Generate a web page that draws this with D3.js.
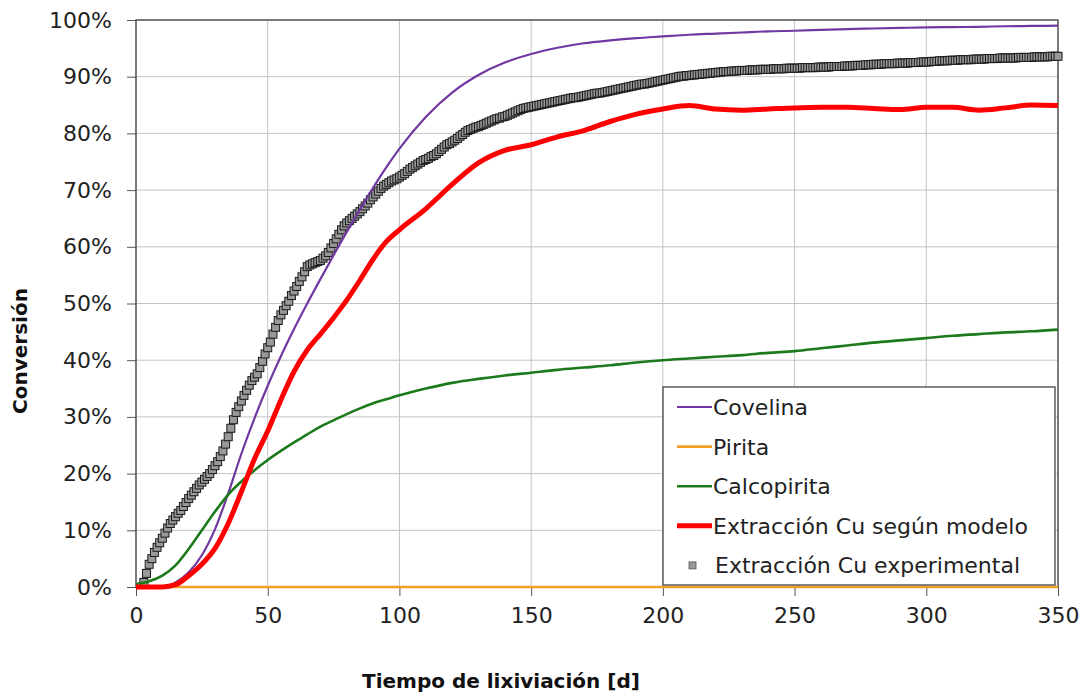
<!doctype html>
<html>
<head>
<meta charset="UTF-8">
<title>Conversión vs tiempo de lixiviación</title>
<script src="https://d3js.org/d3.v7.min.js"></script>
<style>
  body { margin: 0; background: #fff; }
  text { font-family: "DejaVu Sans", Verdana, sans-serif; fill: #222; }
  .grid line { stroke: #c4c4c4; stroke-width: 1; }
  .axis path, .axis line { stroke: #555; }
</style>
</head>
<body>
<svg id="chart" width="1086" height="694"></svg>
<script>
// days for the model curves
var modelDays = [0, 5, 10, 15, 20, 25, 30, 35, 40, 45, 50, 55, 60, 65, 70, 75, 80, 85, 90, 95, 100,
  110, 120, 130, 140, 150, 160, 170, 180, 190, 200, 210, 220, 230, 240, 250, 260, 270, 280, 290, 300,
  310, 320, 330, 340, 350];

var covelina = [0, 0, 0, 0.8, 2.6, 5.6, 10.2, 16.5, 23.5, 29.8, 35.5, 40.7, 45.5, 50, 54.3, 58.5, 62.6, 66.6, 70.4, 74.0, 77.3,
  82.9, 87.2, 90.3, 92.5, 94.0, 95.1, 95.9, 96.4, 96.8, 97.1, 97.4, 97.6, 97.8, 98.0, 98.1, 98.25, 98.4, 98.5, 98.6, 98.7,
  98.75, 98.8, 98.9, 98.95, 99.0];

var pirita = [0, 0, 0, 0, 0, 0, 0, 0, 0, 0, 0, 0, 0, 0, 0, 0, 0, 0, 0, 0, 0,
  0, 0, 0, 0, 0, 0, 0, 0, 0, 0, 0, 0, 0, 0, 0, 0, 0, 0, 0, 0,
  0, 0, 0, 0, 0];

var calcopirita = [0.5, 1.0, 2.0, 3.8, 6.7, 10, 13.3, 16.3, 18.6, 20.6, 22.4, 24.0, 25.5, 26.9, 28.3, 29.4, 30.5, 31.5, 32.4, 33.1, 33.8,
  35.0, 36.0, 36.7, 37.3, 37.8, 38.3, 38.7, 39.1, 39.6, 40.0, 40.3, 40.6, 40.9, 41.3, 41.6, 42.1, 42.6, 43.1, 43.5, 43.9,
  44.3, 44.6, 44.9, 45.1, 45.4];

var modelo = [0, 0, 0, 0.4, 2.0, 4.0, 6.8, 11.2, 16.8, 22.6, 27.5, 33, 38, 41.8, 44.6, 47.5, 50.6, 54.1, 57.8, 60.9, 63.0,
  66.7, 71, 74.8, 77, 78, 79.4, 80.5, 82.1, 83.4, 84.3, 84.9, 84.3, 84.1, 84.3, 84.5, 84.6, 84.6, 84.4, 84.2, 84.6,
  84.6, 84.1, 84.5, 85.0, 84.9];

// experimental extraction, one reading per day from day 3 to day 350
var expFirstDay = 3;
var experimental = [
  0.8, 2.4, 4.0, 5.0, 6.1, 7.0, 7.8,
  8.6, 9.5, 10.4, 11.2, 11.8, 12.4, 13.0, 13.5, 14.2, 14.9,
  15.6, 16.2, 16.8, 17.4, 18.0, 18.5, 19.0, 19.5, 20.0, 20.7,
  21.4, 22.1, 23.0, 24.0, 25.2, 26.5, 28.0, 29.5, 30.8, 31.8,
  32.8, 33.8, 34.7, 35.6, 36.4, 37.0, 37.6, 38.7, 39.8, 41.1,
  42.2, 43.2, 44.6, 45.8, 47.0, 48.0, 48.8, 49.6, 50.4, 51.4,
  52.2, 53.0, 53.9, 54.7, 55.6, 56.5, 56.8, 57.0, 57.2, 57.4,
  57.6, 58.0, 58.4, 59.0, 59.8, 60.6, 61.4, 62.2, 63.0, 63.7,
  64.2, 64.6, 65.0, 65.4, 65.8, 66.2, 66.7, 67.2, 67.7, 68.3,
  68.8, 69.3, 69.8, 70.3, 70.7, 71.0, 71.3, 71.6, 71.8, 72.0,
  72.3, 72.6, 72.9, 73.3, 73.7, 74.0, 74.3, 74.6, 74.9, 75.2,
  75.4, 75.6, 75.9, 76.1, 76.4, 76.8, 77.2, 77.6, 78.0, 78.2,
  78.5, 78.8, 79.1, 79.5, 79.8, 80.2, 80.5, 80.7, 80.9, 81.1,
  81.2, 81.4, 81.6, 81.8, 82.0, 82.2, 82.4, 82.6, 82.7, 82.9,
  83.0, 83.2, 83.4, 83.6, 83.8, 84.0, 84.2, 84.4, 84.5, 84.6,
  84.7, 84.8, 84.9, 85.0, 85.1, 85.2, 85.3, 85.4, 85.5, 85.6,
  85.7, 85.8, 85.9, 86.0, 86.1, 86.2, 86.3, 86.3, 86.4, 86.5,
  86.6, 86.7, 86.8, 86.9, 87.0, 87.1, 87.1, 87.2, 87.3, 87.4,
  87.5, 87.6, 87.7, 87.8, 87.9, 88.0, 88.1, 88.2, 88.3, 88.4,
  88.5, 88.6, 88.7, 88.7, 88.8, 88.9, 89.0, 89.1, 89.2, 89.3,
  89.4, 89.5, 89.6, 89.7, 89.8, 89.9, 90.0, 90.1, 90.1, 90.2,
  90.2, 90.3, 90.3, 90.4, 90.4, 90.5, 90.5, 90.6, 90.6, 90.7,
  90.7, 90.8, 90.8, 90.9, 90.9, 90.9, 91.0, 91.0, 91.0, 91.1,
  91.1, 91.1, 91.1, 91.2, 91.2, 91.2, 91.2, 91.3, 91.3, 91.3,
  91.3, 91.3, 91.4, 91.4, 91.4, 91.4, 91.4, 91.5, 91.5, 91.5,
  91.5, 91.5, 91.5, 91.6, 91.6, 91.6, 91.6, 91.6, 91.6, 91.7,
  91.7, 91.7, 91.7, 91.7, 91.8, 91.8, 91.8, 91.8, 91.8, 91.9,
  91.9, 91.9, 91.9, 92.0, 92.0, 92.0, 92.0, 92.1, 92.1, 92.1,
  92.2, 92.2, 92.2, 92.2, 92.3, 92.3, 92.3, 92.3, 92.3, 92.4,
  92.4, 92.4, 92.4, 92.4, 92.5, 92.5, 92.5, 92.5, 92.6, 92.6,
  92.6, 92.6, 92.7, 92.7, 92.7, 92.8, 92.8, 92.8, 92.8, 92.9,
  92.9, 92.9, 92.9, 93.0, 93.0, 93.0, 93.0, 93.0, 93.1, 93.1,
  93.1, 93.1, 93.1, 93.2, 93.2, 93.2, 93.2, 93.2, 93.3, 93.3,
  93.3, 93.3, 93.3, 93.3, 93.3, 93.4, 93.4, 93.4, 93.4, 93.4,
  93.4, 93.5, 93.5, 93.5, 93.5, 93.5, 93.5, 93.6, 93.6, 93.6, 93.6
];

var xTicks = [0, 50, 100, 150, 200, 250, 300, 350];
var yTicks = [0, 10, 20, 30, 40, 50, 60, 70, 80, 90, 100];

var seriesNames = ["Covelina", "Pirita", "Calcopirita", "Extracción Cu según modelo", "Extracción Cu experimental"];
var seriesColors = ["#7038a0", "#f0a028", "#1c7a1c", "#ff0000", "#999999"];
var seriesWidths = [2.2, 2.6, 2.6, 5, 0];

var margin = { top: 20, right: 28, bottom: 107, left: 136 };
var width = 1086 - margin.left - margin.right;
var height = 694 - margin.top - margin.bottom;

var svg = d3.select("#chart");
var g = svg.append("g").attr("transform", "translate(" + margin.left + "," + margin.top + ")");

var x = d3.scaleLinear().domain([0, 350]).range([0, width]);
var y = d3.scaleLinear().domain([0, 100]).range([height, 0]);

// grid
g.append("g").attr("class", "grid")
  .selectAll("line").data(xTicks).enter().append("line")
  .attr("x1", function (d) { return x(d); }).attr("x2", function (d) { return x(d); })
  .attr("y1", 0).attr("y2", height);
g.append("g").attr("class", "grid")
  .selectAll("line").data(yTicks).enter().append("line")
  .attr("x1", 0).attr("x2", width)
  .attr("y1", function (d) { return y(d); }).attr("y2", function (d) { return y(d); });

// axes
g.append("g").attr("class", "axis")
  .call(d3.axisLeft(y).tickValues(yTicks).tickSize(9).tickPadding(15).tickFormat(function (d) { return d + "%"; }));
g.append("g").attr("class", "axis")
  .attr("transform", "translate(0," + height + ")")
  .call(d3.axisBottom(x).tickValues(xTicks).tickSize(9).tickPadding(11));
g.selectAll(".axis .domain").remove();
g.selectAll(".axis text").style("font-size", "22px").style("fill", "#222");

// frame
g.append("rect")
  .attr("x", 0).attr("y", 0).attr("width", width).attr("height", height)
  .attr("fill", "none").attr("stroke", "#444").attr("stroke-width", 1.3);

// experimental markers
var expData = experimental.map(function (v, i) { return { t: expFirstDay + i, v: v }; });
g.append("g").selectAll("rect").data(expData).enter().append("rect")
  .attr("x", function (d) { return x(d.t) - 4; })
  .attr("y", function (d) { return y(d.v) - 4; })
  .attr("width", 8).attr("height", 8)
  .attr("fill", "#999").attr("stroke", "#1a1a1a").attr("stroke-width", 1);

// model lines
var line = d3.line()
  .x(function (d, i) { return x(modelDays[i]); })
  .y(function (d) { return y(d); })
  .curve(d3.curveMonotoneX);

[covelina, pirita, calcopirita, modelo].forEach(function (s, k) {
  g.append("path")
    .datum(s)
    .attr("fill", "none")
    .attr("stroke", seriesColors[k])
    .attr("stroke-width", seriesWidths[k])
    .attr("stroke-linejoin", "round")
    .attr("d", line);
});

// legend
var lg = svg.append("g").attr("transform", "translate(663,387)");
lg.append("rect").attr("width", 392).attr("height", 198)
  .attr("fill", "#fff").attr("stroke", "#444").attr("stroke-width", 1.3);
seriesNames.forEach(function (name, k) {
  var cy = 20 + k * 39.6;
  if (k < 4) {
    lg.append("line").attr("x1", 14).attr("x2", 49).attr("y1", cy).attr("y2", cy)
      .attr("stroke", seriesColors[k]).attr("stroke-width", seriesWidths[k]);
  } else {
    lg.append("rect").attr("x", 26).attr("y", cy - 3.5).attr("width", 7).attr("height", 7)
      .attr("fill", "#999").attr("stroke", "#555").attr("stroke-width", 0.8);
  }
  lg.append("text").attr("x", k < 4 ? 50 : 52).attr("y", cy).attr("dy", "0.36em")
    .style("font-size", "22px").text(name);
});

// axis titles
svg.append("text")
  .attr("x", 362).attr("y", 688)
  .style("font-size", "20px").style("font-weight", "bold").style("fill", "#111")
  .text("Tiempo de lixiviación [d]");
svg.append("text")
  .attr("transform", "translate(27,351) rotate(-90)")
  .attr("text-anchor", "middle")
  .style("font-size", "20px").style("font-weight", "bold").style("fill", "#111")
  .text("Conversión");
</script>
</body>
</html>
